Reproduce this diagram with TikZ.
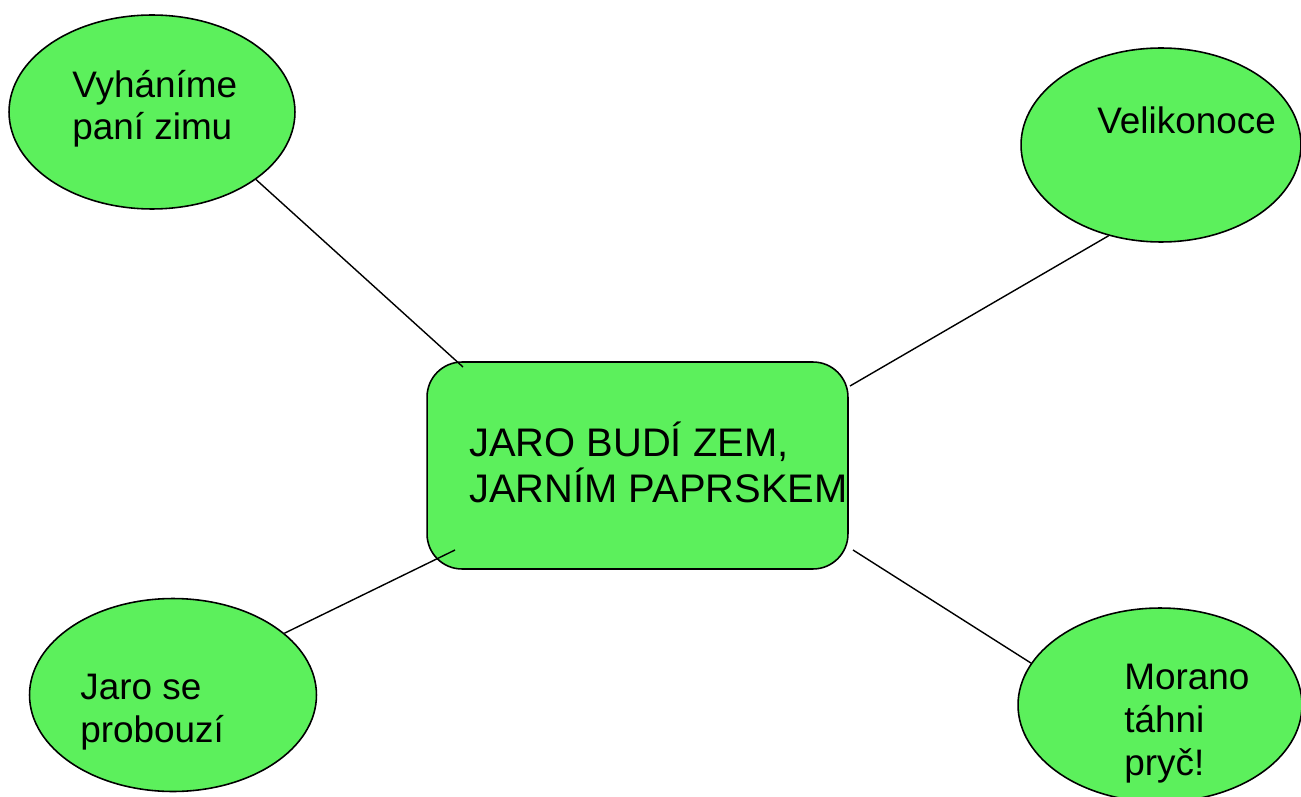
\documentclass[tikz,border=0pt]{standalone}
\usepackage{fontspec}
\setmainfont{Liberation Sans}
\usetikzlibrary{shapes.geometric}
\definecolor{leaf}{RGB}{92,240,92}
\tikzset{
  bubble/.style={ellipse, draw=black, line width=0.9pt, fill=leaf, inner sep=0pt},
  centerbox/.style={rectangle, rounded corners=0.7cm, draw=black, line width=0.9pt, fill=leaf, inner sep=0pt},
  small/.style={anchor=base west, align=left, inner sep=0pt, font=\fontsize{21}{24.4}\selectfont},
  big/.style={anchor=base west, align=left, inner sep=0pt, font=\fontsize{22.7}{26}\selectfont},
  link/.style={draw=black, line width=0.8pt}
}
\begin{document}
\begin{tikzpicture}[x=0.02cm,y=-0.02cm]
\useasboundingbox (0,0) rectangle (1301,797);
\clip (0,0) rectangle (1301,797);
\node[bubble, minimum width=5.72cm, minimum height=3.88cm] (tl) at (152,112) {};
\node[bubble, minimum width=5.60cm, minimum height=3.88cm] (tr) at (1161,145) {};
\node[bubble, minimum width=5.74cm, minimum height=3.86cm] (bl) at (173,695) {};
\node[bubble, minimum width=5.68cm, minimum height=3.88cm] (br) at (1160,705) {};
\node[centerbox, minimum width=8.42cm, minimum height=4.14cm] (c) at (637.5,465.5) {};
\coordinate (c1) at (463,367);
\coordinate (c2) at (850,386);
\coordinate (c3) at (455,550);
\coordinate (c4) at (853,550);
\draw[link] (tl.-33) -- (c1);
\draw[link] (tr.-120.7) -- (c2);
\draw[link] (bl.29.4) -- (c3);
\draw[link] (br.162.2) -- (c4);
\node[small] (ttl) at (72,140) {Vyháníme\\paní zimu};
\node[small] (ttr) at (1097,134) {Velikonoce};
\node[small] (tbl) at (80,742) {Jaro se\\probouzí};
\node[small] (tbr) at (1124,775) {Morano\\táhni\\pryč!};
\node[big] (tc) at (469,502) {JARO BUDÍ ZEM,\\JARNÍM PAPRSKEM};
\end{tikzpicture}
\end{document}
